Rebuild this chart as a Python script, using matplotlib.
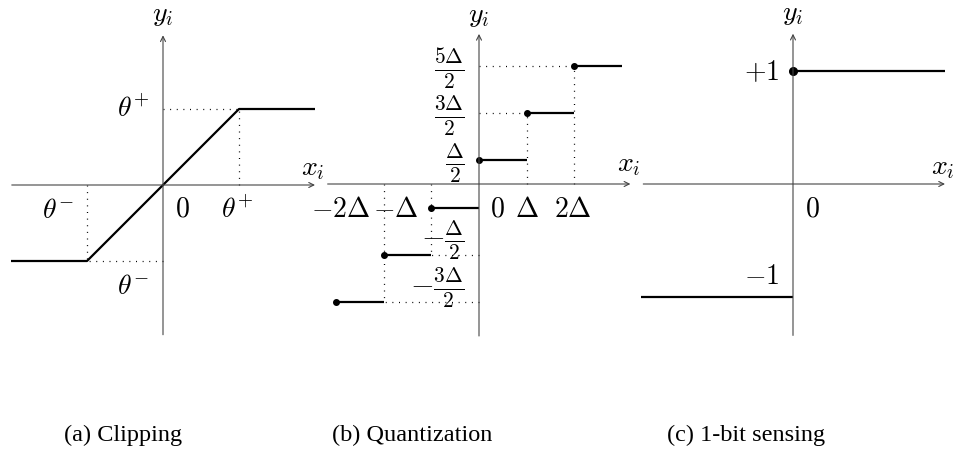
import matplotlib
matplotlib.use("Agg")
import matplotlib.pyplot as plt

plt.rcParams['mathtext.fontset'] = 'cm'
plt.rcParams['font.family'] = ['DejaVu Serif']

# ---------------- data ----------------
# (a) clipping: break points (units of theta)
clip_x = [-2.0, -1.0, 1.0, 2.0]
clip_y = [-1.0, -1.0, 1.0, 1.0]
clip_thresholds = [-1.0, 1.0]

# (b) quantization (units of Delta)
quant_start = [-3, -2, -1, 0, 1, 2]
quant_end = [-2, -1, 0, 1, 2, 3]
quant_level = [-2.5, -1.5, -0.5, 0.5, 1.5, 2.5]
quant_ylabels = [r'$\frac{5\Delta}{2}$', r'$\frac{3\Delta}{2}$', r'$\frac{\Delta}{2}$',
                 r'$-\frac{\Delta}{2}$', r'$-\frac{3\Delta}{2}$']
quant_xlabels = [r'$-2\Delta$', r'$-\Delta$', r'$0$', r'$\Delta$', r'$2\Delta$']

# (c) 1-bit sensing
sign_breaks = [-2.0, 0.0, 2.0]
sign_levels = [-1, 1]

captions = ['(a) Clipping', '(b) Quantization', '(c) 1-bit sensing']

# ---------------- figure ----------------
W, H = 958, 453
fig = plt.figure(figsize=(W / 100, H / 100), dpi=100)
fig.patch.set_facecolor('white')

FS = 20
AX_COLOR = '#444444'


def make_ax(ox, oy, sx, sy):
    ax = fig.add_axes([0, 0, 1, 1])
    ax.set_xlim(-ox / sx, (W - ox) / sx)
    ax.set_ylim((oy - H) / sy, oy / sy)
    ax.axis('off')
    ax.patch.set_alpha(0)
    return ax


def draw_axes(ax, x0, x1, y0, y1):
    ap = dict(arrowstyle='->', lw=0.8, color=AX_COLOR, shrinkA=0, shrinkB=0,
              mutation_scale=9)
    ax.annotate('', xy=(x1, 0), xytext=(x0, 0), arrowprops=ap)
    ax.annotate('', xy=(0, y1), xytext=(0, y0), arrowprops=ap)


def dotted(ax, xs, ys):
    ax.plot(xs, ys, color='black', lw=0.9, linestyle=(0, (0.8, 4.5)))


# ---- (a) ----
ax = make_ax(163, 185, 76, 76)
draw_axes(ax, -1.99, 2.0, -1.97, 1.97)
for t in clip_thresholds:
    dotted(ax, [t, t], [0, t])
    dotted(ax, [0, t], [t, t])
ax.plot(clip_x, clip_y, color='black', lw=1.6, solid_capstyle='butt')
ax.text(0, 2.24, r'$y_i$', fontsize=FS, ha='center', va='center')
ax.text(1.97, 0.22, r'$x_i$', fontsize=FS, ha='center', va='center')
ax.text(-0.39, 0.99, r'$\theta^{+}$', fontsize=FS, ha='center', va='center')
ax.text(-1.38, -0.34, r'$\theta^{-}$', fontsize=FS, ha='center', va='center')
ax.text(0.26, -0.32, r'$0$', fontsize=FS, ha='center', va='center')
ax.text(0.97, -0.34, r'$\theta^{+}$', fontsize=FS, ha='center', va='center')
ax.text(-0.39, -1.33, r'$\theta^{-}$', fontsize=FS, ha='center', va='center')

# ---- (b) ----
ax = make_ax(479, 184, 47.6, 47.2)
draw_axes(ax, -3.18, 3.18, -3.22, 3.18)
for s, e, lv in zip(quant_start, quant_end, quant_level):
    if s > 0:
        cx = s
    elif e < 0:
        cx = e
    else:
        cx = None
    if cx is not None:
        dotted(ax, [cx, cx], [0, lv])
        dotted(ax, [0, cx], [lv, lv])
for s, e, lv in zip(quant_start, quant_end, quant_level):
    ax.plot([s, e], [lv, lv], color='black', lw=1.6, solid_capstyle='butt')
    ax.plot([s], [lv], 'o', color='black', ms=4)
ax.text(0, 3.58, r'$y_i$', fontsize=FS, ha='center', va='center')
ax.text(3.14, 0.42, r'$x_i$', fontsize=FS, ha='center', va='center')
ylab_pos = [(-0.63, 2.44), (-0.63, 1.45), (-0.51, 0.44), (-0.76, -1.18), (-0.88, -2.19)]
for lab, (px, py) in zip(quant_ylabels, ylab_pos):
    ax.text(px, py, lab, fontsize=FS + 2, ha='center', va='center')
xlab_pos = [-2.91, -1.75, 0.38, 1.01, 1.98]
for lab, px in zip(quant_xlabels, xlab_pos):
    ax.text(px, -0.53, lab, fontsize=FS, ha='center', va='center')

# ---- (c) ----
ax = make_ax(793, 184, 76, 113)
draw_axes(ax, -1.97, 2.0, -1.34, 1.33)
for i, lv in enumerate(sign_levels):
    ax.plot([sign_breaks[i], sign_breaks[i + 1]], [lv, lv], color='black', lw=1.6,
            solid_capstyle='butt')
ax.plot([0], [sign_levels[1]], 'o', color='black', ms=5.5)
ax.text(0, 1.51, r'$y_i$', fontsize=FS, ha='center', va='center')
ax.text(1.97, 0.15, r'$x_i$', fontsize=FS, ha='center', va='center')
ax.text(-0.41, 0.99, r'$+1$', fontsize=FS, ha='center', va='center')
ax.text(-0.41, -0.82, r'$-1$', fontsize=FS, ha='center', va='center')
ax.text(0.26, -0.22, r'$0$', fontsize=FS, ha='center', va='center')

# ---- captions ----
cap_x = [123, 412, 746]
for c, px in zip(captions, cap_x):
    fig.text(px / W, 1 - 435 / H, c, fontsize=17.5, family='Liberation Serif',
             ha='center', va='center')

fig.savefig('out.png', dpi=100, facecolor='white')
